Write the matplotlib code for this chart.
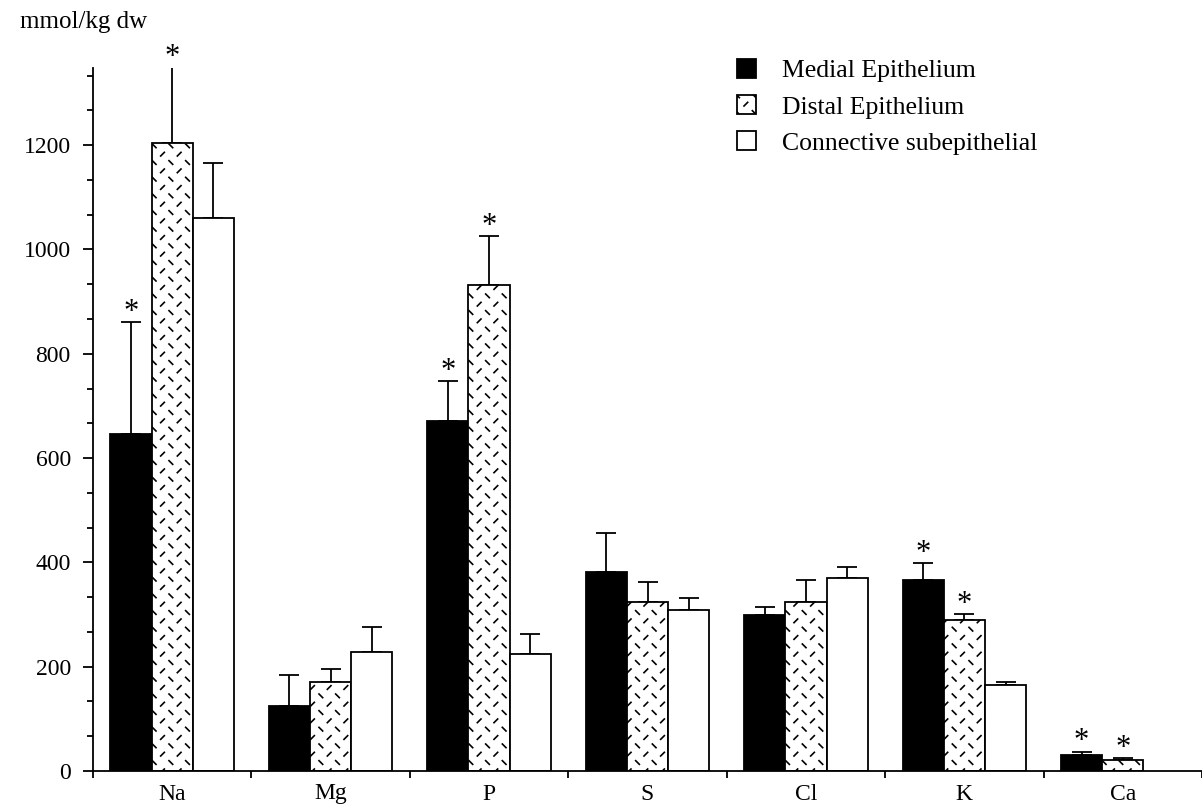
import warnings

import numpy as np
import matplotlib
matplotlib.use('Agg')
import matplotlib.pyplot as plt
import matplotlib.hatch as mhatch
from matplotlib.path import Path
from matplotlib.ticker import MultipleLocator

warnings.filterwarnings('ignore')

elements = ['Na', 'Mg', 'P', 'S', 'Cl', 'K', 'Ca']
series_names = ['Medial Epithelium', 'Distal Epithelium', 'Connective subepithelial']

medial = [647, 125, 671, 382, 299, 366, 31]
medial_sd = [213, 60, 76, 75, 15, 33, 6]
distal = [1204, 170, 931, 324, 325, 290, 21]
distal_sd = [145, 26, 94, 38, 42, 11, 3]
connective = [1061, 228, 224, 309, 371, 164, np.nan]
connective_sd = [104, 49, 38, 22, 20, 6, np.nan]

# asterisks (significant difference)
medial_sig = [True, False, True, False, False, True, True]
distal_sig = [True, False, True, False, False, True, True]
connective_sig = [False, False, False, False, False, False, False]


class ShortDashHatch(mhatch.HatchPatternBase):
    '''
    checkerboard of short dashes, alternating \\ and /  (hatch letter "d")
    '''
    def __init__(self, hatch, density):
        self.n = hatch.count('d') * density
        self.cells = [(i, j) for i in range(self.n) for j in range(self.n)
                      if (i + j) % 2 == 0]
        self.num_vertices = 2 * len(self.cells)

    def set_vertices_and_codes(self, vertices, codes):
        h = 0.22 / self.n
        for k, (i, j) in enumerate(self.cells):
            cx = (i + 0.5) / self.n
            cy = (j + 0.5) / self.n
            if i % 2 == 0:
                vertices[2 * k] = (cx - h, cy + h)
                vertices[2 * k + 1] = (cx + h, cy - h)
            else:
                vertices[2 * k] = (cx - h, cy - h)
                vertices[2 * k + 1] = (cx + h, cy + h)
            codes[2 * k] = Path.MOVETO
            codes[2 * k + 1] = Path.LINETO


mhatch._hatch_types.append(ShortDashHatch)

plt.rcParams['font.family'] = ['Liberation Serif', 'DejaVu Serif']
plt.rcParams['hatch.linewidth'] = 1.2

fig = plt.figure(figsize=(12.02, 8.11), dpi=100)
ax = fig.add_axes([93 / 1202, 1 - 771 / 811, 1 - 93 / 1202, (771 - 68) / 811])

x = np.arange(len(elements))
w = 0.26
lw = 1.3

styles = [
    dict(facecolor='black', edgecolor='black'),
    dict(facecolor='white', edgecolor='black', hatch='dd'),
    dict(facecolor='white', edgecolor='black'),
]
all_vals = [medial, distal, connective]
all_sd = [medial_sd, distal_sd, connective_sd]
all_sig = [medial_sig, distal_sig, connective_sig]

handles = []
for k in range(3):
    pos = x + (k - 1) * w
    vals = np.array(all_vals[k], dtype=float)
    sds = np.array(all_sd[k], dtype=float)
    bars = ax.bar(pos, vals, w, linewidth=lw, zorder=2, **styles[k])
    handles.append(bars)
    ax.errorbar(pos, vals, yerr=[np.zeros_like(sds), sds], fmt='none',
                ecolor='black', elinewidth=lw, capsize=7.5, capthick=lw, zorder=1)
    for i in range(len(elements)):
        if all_sig[k][i]:
            ax.annotate('*', (pos[i], vals[i] + sds[i]), xytext=(0, 7),
                        textcoords='offset points', ha='center', va='center',
                        fontsize=22, annotation_clip=False)

ax.set_xlim(-0.5, -0.5 + 1109 / 159.5)
ax.set_ylim(0, 1348)

for s in ['top', 'right']:
    ax.spines[s].set_visible(False)
for s in ['left', 'bottom']:
    ax.spines[s].set_linewidth(lw)

ax.set_xticks(np.arange(-0.5, len(elements) + 0.5, 1))
ax.set_xticklabels([])
ax.set_xticks(x, minor=True)
ax.set_xticklabels(elements, minor=True)
ax.tick_params(axis='x', which='major', direction='out', length=5, width=lw)
ax.tick_params(axis='x', which='minor', length=0, pad=9, labelsize=17)

ax.set_yticks(range(0, 1201, 200))
ax.yaxis.set_minor_locator(MultipleLocator(200 / 3))
ax.tick_params(axis='y', which='major', direction='out', length=7, width=lw,
               pad=9, labelsize=17)
ax.tick_params(axis='y', which='minor', direction='out', length=4, width=lw)

fig.text(20 / 1202, 1 - 22 / 811, 'mmol/kg dw', va='center', fontsize=18)

ax.legend(handles, series_names, loc='upper left',
          bbox_to_anchor=(737 / 1202, 1 - 59 / 811), bbox_transform=fig.transFigure,
          frameon=False, fontsize=18.5, handlelength=0.75, handleheight=0.75,
          handletextpad=1.0, labelspacing=0.5, borderpad=0, borderaxespad=0)

fig.savefig('out.png', dpi=100)
